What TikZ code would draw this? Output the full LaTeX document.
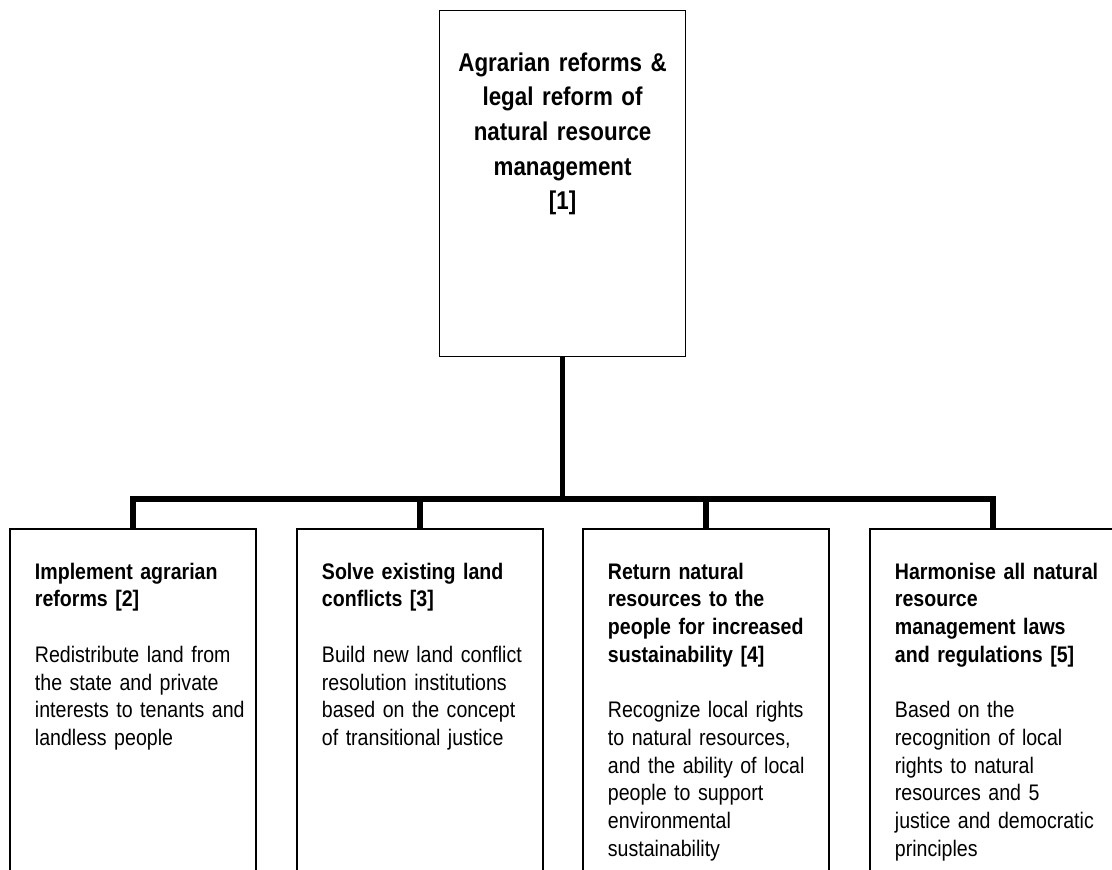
\documentclass[tikz,border=0pt]{standalone}
\usepackage{fontspec}
% slightly condensed sans, as in the original drawing
\setmainfont{Liberation Sans}[FakeStretch=0.87]
\begin{document}
\begin{tikzpicture}[x=1pt,y=-1pt,
  topbox/.style={draw=black, line width=1.5pt, inner sep=0pt,
    minimum width=246pt, minimum height=346pt},
  subbox/.style={draw=black, line width=1.5pt, inner sep=0pt,
    minimum width=246pt, minimum height=380pt},
  toptext/.style={inner sep=0pt, anchor=base, text width=240pt, align=center,
    font=\fontsize{25.7}{34.7}\selectfont\bfseries},
  subtext/.style={inner sep=0pt, anchor=base west, text width=225pt, align=left,
    font=\fontsize{22.5}{27.7}\selectfont},
  conn/.style={draw=black, line width=5.5pt, line join=miter, line cap=butt}]
\useasboundingbox (0,0) rectangle (1112,870);
\clip (0,0) rectangle (1112,870);

% main box
\node[topbox] (top) at (562.6,183.7) {};
\node[toptext] (toplabel) at (562.6,71)
  {Agrarian reforms \&\\legal reform of\\natural resource\\management\\{}[1]};

% the four sub-boxes (run past the lower and right edges)
\node[subbox] (b1) at (133,719) {};
\node[subbox] (b2) at (420,719) {};
\node[subbox] (b3) at (706,719) {};
\node[subbox] (b4) at (993,719) {};

\node[subtext] (t1) at ([shift={(25.5,51)}]b1.north west)
  {\textbf{Implement agrarian\\reforms [2]}\\[27.7pt]
   Redistribute land from\\the state and private\\interests to tenants and\\landless people};
\node[subtext] (t2) at ([shift={(25.5,51)}]b2.north west)
  {\textbf{Solve existing land\\conflicts [3]}\\[27.7pt]
   Build new land conflict\\resolution institutions\\based on the concept\\of transitional justice};
\node[subtext] (t3) at ([shift={(25.5,51)}]b3.north west)
  {\textbf{Return natural\\resources to the\\people for increased\\sustainability [4]}\\[27.7pt]
   Recognize local rights\\to natural resources,\\and the ability of local\\people to support\\environmental\\sustainability};
\node[subtext] (t4) at ([shift={(25.5,51)}]b4.north west)
  {\textbf{Harmonise all natural\\resource\\management laws\\and regulations [5]}\\[27.7pt]
   Based on the\\recognition of local\\rights to natural\\resources and 5\\justice and democratic\\principles};

% connectors
\coordinate (bar) at (562.6,499);
\draw[conn] (top.south) -- (top.south |- bar);
\draw[conn] (b1.north) -- (b1.north |- bar) -- (b4.north |- bar) -- (b4.north);
\draw[conn] (b2.north) -- (b2.north |- bar);
\draw[conn] (b3.north) -- (b3.north |- bar);
\end{tikzpicture}
\end{document}
